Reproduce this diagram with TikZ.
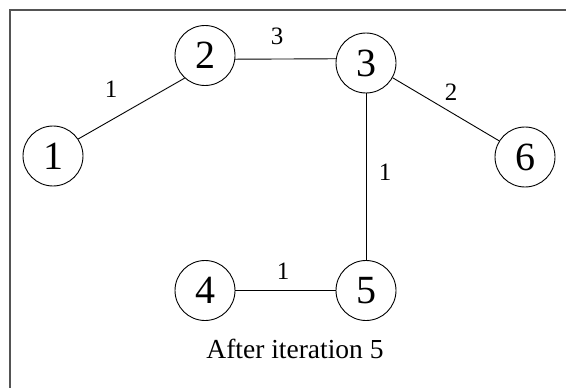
\documentclass[tikz,border=0pt]{standalone}
\usepackage{fontspec}
\setmainfont{Liberation Serif}
\begin{document}
\begin{tikzpicture}[x=1pt,y=-1pt,
  vertex/.style={circle,draw=black,line width=0.9pt,minimum size=60pt,inner sep=0pt,
    font=\fontsize{40}{40}\selectfont},
  weight/.style={inner sep=0pt,font=\fontsize{25}{25}\selectfont},
  edge/.style={draw=black,line width=0.9pt},
  frame/.style={draw=black!67,line width=2pt}]
\useasboundingbox (0,0) rectangle (566,388);
% frame (its right and bottom sides lie outside the page)
\begin{scope}
\clip (0,0) rectangle (566,388);
\draw[frame] (9.7,10) rectangle (600,420);
\end{scope}
% vertices
\node[vertex] (n1) at (53,156) {1};
\node[vertex] (n2) at (205,55.5) {2};
\node[vertex] (n3) at (366,63) {3};
\node[vertex] (n4) at (205,290.5) {4};
\node[vertex] (n5) at (366,290.5) {5};
\node[vertex] (n6) at (525,157) {6};
% edges
\draw[edge] (n1.34) -- (n2.228);
\draw[edge] (n2.-7.6) -- (n3.172.4);
\draw[edge] (n3.-29) -- (n6.148);
\draw[edge] (n3) -- (n5);
\draw[edge] (n4) -- (n5);
% weights
\node[weight] (w12) at (111,89.5) {1};
\node[weight] (w23) at (277,36.5) {3};
\node[weight] (w36) at (451,92) {2};
\node[weight] (w35) at (385,172) {1};
\node[weight] (w45) at (283,271) {1};
% caption
\node[inner sep=0pt,anchor=base,font=\fontsize{27.5}{27.5}\selectfont] (cap) at (295,358) {After iteration 5};
\end{tikzpicture}
\end{document}
